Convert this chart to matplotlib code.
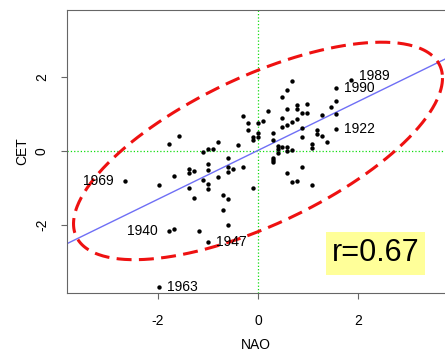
import numpy as np
import matplotlib
matplotlib.use('Agg')
import matplotlib.pyplot as plt

plt.rcParams['font.family'] = ['Liberation Sans', 'DejaVu Sans']
plt.rcParams['axes.unicode_minus'] = False

# NAO index vs CET (winter)
nao = [-2.66, -1.98, -1.98, -1.78, -1.78, -1.68, -1.68, -1.58, -1.38, -1.38,
       -1.28, -1.38, -1.28, -1.18, -1.10, -1.10, -1.00, -1.00, -1.00, -1.00,
       -1.00, -1.00, -0.90, -0.80, -0.80, -0.70, -0.70, -0.60, -0.60, -0.60,
       -0.60, -0.60, -0.50, -0.40, -0.30, -0.30, -0.20, -0.20, -0.10, -0.10,
       -0.10, 0.00, 0.00, 0.00, 0.10, 0.20, 0.30, 0.30, 0.30, 0.30,
       0.30, 0.40, 0.40, 0.40, 0.48, 0.48, 0.48, 0.48, 0.58, 0.58,
       0.58, 0.58, 0.58, 0.58, 0.68, 0.68, 0.68, 0.68, 0.78, 0.78,
       0.78, 0.78, 0.88, 0.88, 0.88, 0.88, 0.98, 0.98, 1.08, 1.08,
       1.08, 1.18, 1.18, 1.28, 1.28, 1.38, 1.46, 1.56, 1.56, 1.56,
       1.56, 1.86]
cet = [-0.81, -0.92, -3.68, 0.19, -2.16, -2.11, -0.68, 0.41, -0.49, -0.59,
       -0.54, -1.00, -1.27, -2.16, -0.03, -0.78, 0.05, -0.35, -0.51, -0.89,
       -1.03, -2.46, 0.05, 0.24, -0.70, -1.19, -1.59, -1.30, -2.00, -0.19,
       -0.43, -0.57, -0.49, 0.16, 0.95, -0.43, 0.76, 0.57, 0.38, 0.30,
       -1.00, 0.76, 0.49, 0.38, 0.81, 1.08, 0.49, 0.30, -0.19, -0.24,
       -0.30, 0.14, 0.05, -0.05, 1.46, 0.89, 0.65, 0.11, 1.65, 1.14,
       0.70, 0.11, 0.00, -0.59, 1.89, 0.78, 0.03, -0.84, 1.24, 1.14,
       0.86, -0.81, 1.03, 0.62, 0.38, -0.43, 1.27, 1.03, 0.19, 0.08,
       -0.92, 0.57, 0.46, 0.97, 0.41, 0.24, 1.19, 1.70, 1.35, 1.00,
       0.59, 1.92]

# labelled years
years = ['1989', '1990', '1922', '1969', '1940', '1947', '1963']
year_nao = [1.86, 1.56, 1.56, -2.66, -1.78, -1.00, -1.98]
year_cet = [1.92, 1.70, 0.59, -0.81, -2.16, -2.46, -3.68]
year_side = ['right', 'right', 'right', 'left', 'left', 'right', 'right']

r_value = 0.67
line_slope, line_icept = 0.66, 0.015
ell_sx, ell_sy = 3.69, 2.94   # half extents of the ellipse

fig = plt.figure(figsize=(4.45, 3.5), dpi=100)
ax = fig.add_axes([0.1506, 0.1629, 0.8494, 0.8085])

ax.axhline(0, color='#11dd11', lw=0.9, ls=':', zorder=1)
ax.axvline(0, color='#11dd11', lw=0.9, ls=':', zorder=1)

xx = np.array([-4, 4])
ax.plot(xx, line_slope * xx + line_icept, color='#6f6ff5', lw=1, zorder=2)

t = np.linspace(0, 2 * np.pi, 400)
ex = ell_sx * np.cos(t)
ey = ell_sy * np.cos(t + np.arccos(r_value))
ax.plot(ex, ey, color='#ee1111', lw=2.2, dashes=(4.9, 2.4), zorder=3)

ax.scatter(nao, cet, s=10, color='black', zorder=4, linewidths=0)

for yr, xv, yv, side in zip(years, year_nao, year_cet, year_side):
    dy = 2.5 if yr == '1989' else 0
    if side == 'right':
        ax.annotate(yr, (xv, yv), xytext=(5.5, dy), textcoords='offset points',
                    ha='left', va='center', fontsize=10)
    else:
        ax.annotate(yr, (xv, yv), xytext=(-8, dy), textcoords='offset points',
                    ha='right', va='center', fontsize=10)

ax.text(2.35, -2.77, 'r=0.67', fontsize=22, ha='center', va='center', zorder=5,
        bbox=dict(boxstyle='square,pad=0.2', fc='#ffff99', ec='none'))

ax.set_xlim(-3.82, 3.74)
ax.set_ylim(-3.84, 3.81)
ax.set_xticks([-2, 0, 2])
ax.set_yticks([-2, 0, 2])
ax.spines['right'].set_visible(False)
for s in ['left', 'top', 'bottom']:
    ax.spines[s].set_color('#666666')
    ax.spines[s].set_linewidth(0.8)
ax.tick_params(length=4, color='#666666', labelsize=10)
ax.tick_params(axis='x', pad=11)
ax.tick_params(axis='y', pad=9)
for lab in ax.get_yticklabels():
    lab.set_rotation(90)
    lab.set_va('center')

ax.set_xlabel('NAO', fontsize=10, labelpad=7)
ax.set_ylabel('CET', fontsize=10, labelpad=4)

fig.savefig('out.png', dpi=100)
